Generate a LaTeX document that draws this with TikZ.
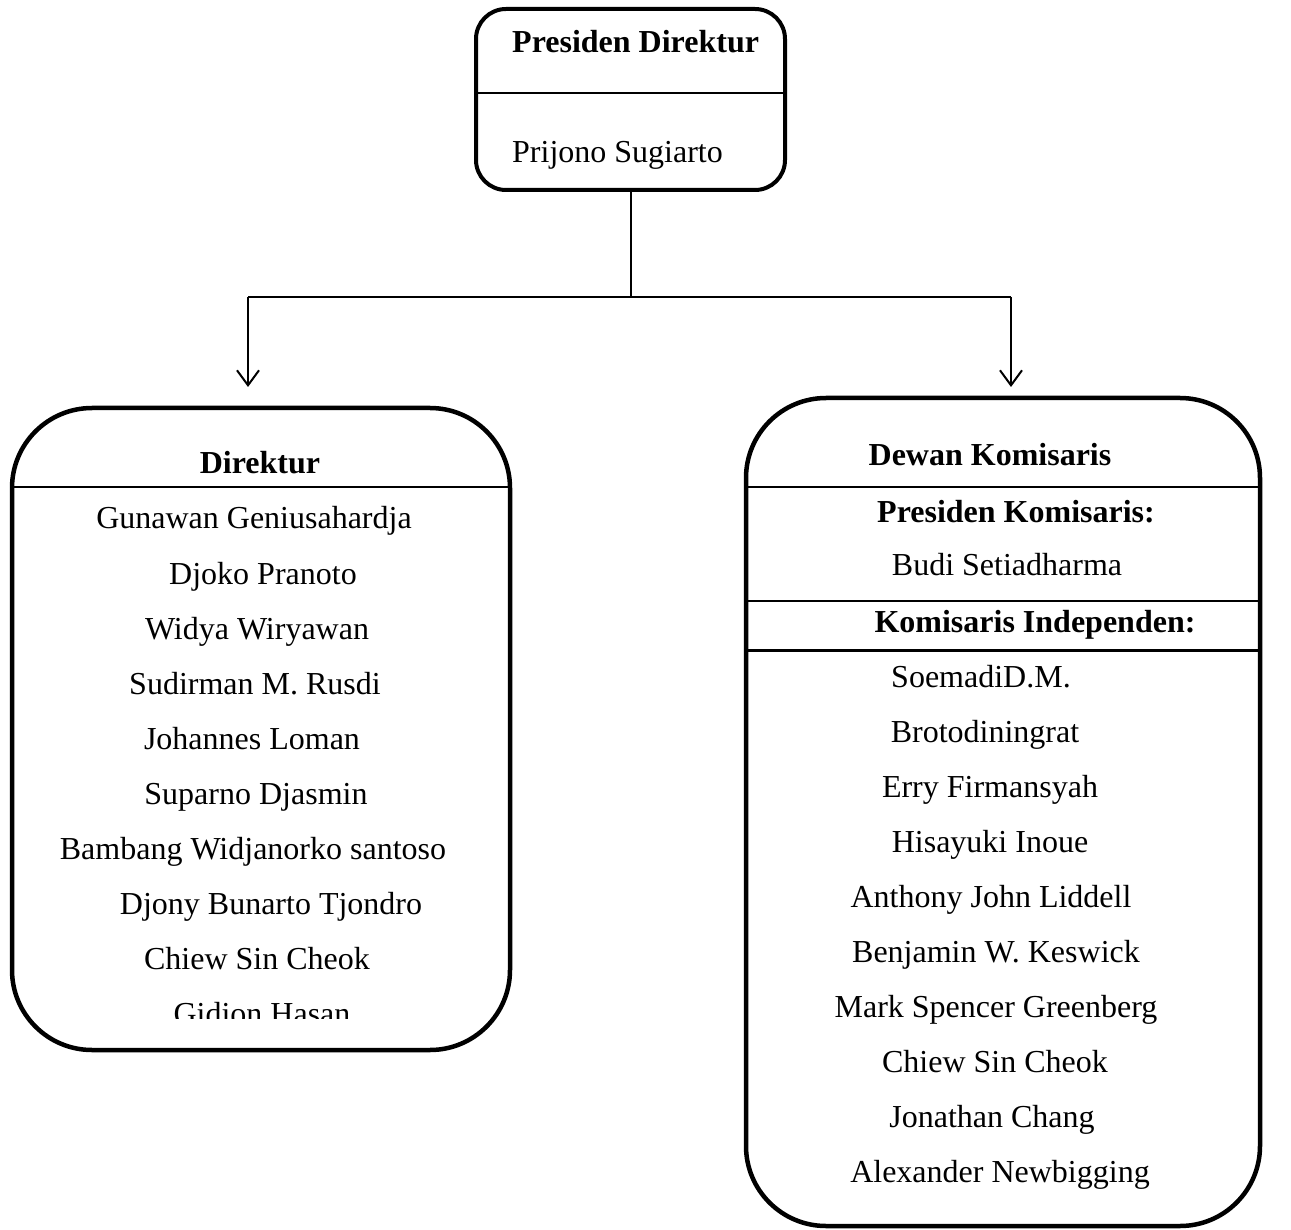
\documentclass[tikz,border=0pt]{standalone}
\usepackage{fontspec}
\setmainfont{Liberation Serif}
\usetikzlibrary{arrows.meta}
\begin{document}
\begin{tikzpicture}[x=1pt,y=-1pt,
  txt/.style={inner sep=0pt, anchor=base, font=\fontsize{32}{38}\selectfont},
  btxt/.style={txt, font=\fontsize{32}{38}\selectfont\bfseries},
  bigbox/.style={draw, line width=4.5pt, rounded corners=80pt, inner sep=0pt},
  topbox/.style={draw, line width=4pt, rounded corners=30pt, inner sep=0pt},
  divider/.style={line width=1.5pt},
  conn/.style={line width=2pt},
  arr/.style={conn, -{Straight Barb[length=15pt,width=22pt,line width=2pt]}}
]
\useasboundingbox (0,0) rectangle (1291,1230);

% top box
\node[topbox, minimum width=309pt, minimum height=181pt] (pd) at (630.5,99.5) {};
\draw[divider] (476,93) -- (785,93);
\node[btxt, anchor=base west] (pdt) at (512,53) {Presiden Direktur};
\node[txt, anchor=base west] (pdn) at (512,163) {Prijono Sugiarto};

% connectors
\coordinate (j) at (631,297);
\coordinate (jl) at (248,297);
\coordinate (jr) at (1011,297);
\coordinate (al) at (248,387);
\coordinate (ar) at (1011,387);
\draw[conn] (pd.south -| j) -- (j);
\draw[conn] (jl) -- (jr);
\draw[arr] (jl) -- (al);
\draw[arr] (jr) -- (ar);

% left box
\node[bigbox, minimum width=498pt, minimum height=642pt] (dir) at (261,729) {};
\draw[divider] (13,487) -- (509,487);
\node[btxt] (dirt) at (260,474) {Direktur};
\node[txt] (d1) at (254,528) {Gunawan Geniusahardja};
\node[txt] (d2) at (263,584) {Djoko Pranoto};
\node[txt] (d3) at (257,639) {Widya Wiryawan};
\node[txt] (d4) at (255,694) {Sudirman M. Rusdi};
\node[txt] (d5) at (252,749) {Johannes Loman};
\node[txt] (d6) at (256,804) {Suparno Djasmin};
\node[txt] (d7) at (253,859) {Bambang Widjanorko santoso};
\node[txt] (d8) at (271,914) {Djony Bunarto Tjondro};
\node[txt] (d9) at (257,969) {Chiew Sin Cheok};
\begin{scope}
\clip (0,0) rectangle (1291,1018);
\node[txt] (d10) at (262,1024) {Gidion Hasan};
\end{scope}

% right box
\node[bigbox, minimum width=514pt, minimum height=828pt] (dk) at (1003,812) {};
\draw[divider] (747,487) -- (1259,487);
\draw[divider] (747,601) -- (1259,601);
\draw[line width=3pt] (747,650) -- (1259,650);
\node[btxt] (dkt) at (990,465) {Dewan Komisaris};
\node[btxt] (pk) at (1016,522) {Presiden Komisaris:};
\node[txt] (pkn) at (1007,575) {Budi Setiadharma};
\node[btxt] (ki) at (1035,632) {Komisaris Independen:};
\node[txt] (k1) at (981,687) {SoemadiD.M.};
\node[txt] (k2) at (985,742) {Brotodiningrat};
\node[txt] (k3) at (990,797) {Erry Firmansyah};
\node[txt] (k4) at (990,852) {Hisayuki Inoue};
\node[txt] (k5) at (991,907) {Anthony John Liddell};
\node[txt] (k6) at (996,962) {Benjamin W. Keswick};
\node[txt] (k7) at (996,1017) {Mark Spencer Greenberg};
\node[txt] (k8) at (995,1072) {Chiew Sin Cheok};
\node[txt] (k9) at (992,1127) {Jonathan Chang};
\node[txt] (k10) at (1000,1182) {Alexander Newbigging};
\end{tikzpicture}
\end{document}
